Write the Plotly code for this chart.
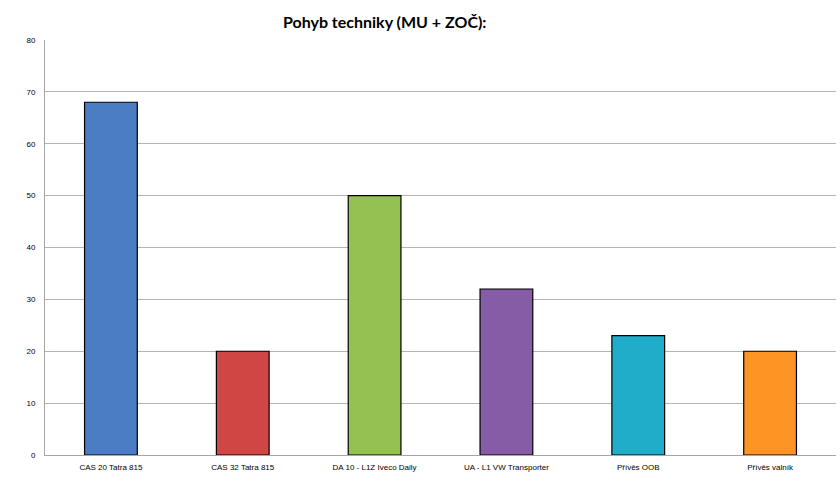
import plotly.graph_objects as go

categories = ["CAS 20 Tatra 815", "CAS 32 Tatra 815", "DA 10 - L1Z Iveco Daily",
              "UA - L1 VW Transporter", "Přívěs OOB", "Přívěs valník"]
values = [68, 20, 50, 32, 23, 20]
colors = ["#4A7DC4", "#CF4645", "#93C252", "#865CA7", "#1FADCA", "#FD9424"]

fig = go.Figure(go.Bar(
    x=categories, y=values,
    marker=dict(color=colors, line=dict(color="black", width=1.2)),
    width=0.4,
))
fig.update_layout(
    width=840, height=497,
    margin=dict(l=45, r=4, t=40, b=42),
    paper_bgcolor="white", plot_bgcolor="white",
    title=dict(text="<b>Pohyb techniky (MU + ZOČ):</b>", x=0.458, xanchor="center",
               y=0.955, yanchor="middle",
               font=dict(family="Lato", size=16, color="black")),
    showlegend=False,
    font=dict(family="Liberation Sans", size=8, color="black"),
    bargap=0.6,
)
fig.update_xaxes(showline=True, linecolor="#A6A6A6", linewidth=1, ticks="",
                 ticklabelstandoff=4,
                 tickfont=dict(size=8, family="Liberation Sans Narrow, Liberation Sans"))
fig.update_yaxes(range=[0, 80], dtick=10, showline=True, linecolor="#A6A6A6", linewidth=1,
                 showgrid=True, gridcolor="#B3B3B3", gridwidth=1, zeroline=False,
                 ticks="", ticklabelstandoff=7, tickfont=dict(size=8))
fig.write_html("out.html")
